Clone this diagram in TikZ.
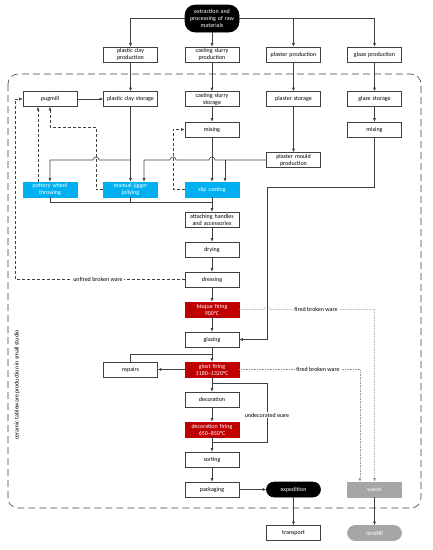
\documentclass[tikz,border=0pt]{standalone}
\usepackage{fontspec}
\setmainfont{Carlito}
\usepackage{tikz}
\usetikzlibrary{arrows.meta}
\definecolor{slipblue}  {RGB}{0,  176, 240}
\definecolor{firered}   {RGB}{192,  0,   0}
\definecolor{wastegray} {RGB}{166, 166, 166}
\definecolor{linegray}  {RGB}{64,  64,  64}
\definecolor{brokengray}{RGB}{150, 150, 150}

\begin{document}
\begin{tikzpicture}[x=1pt, y=-1pt, font=\fontsize{6}{7}\selectfont,
  box/.style={draw=linegray, line width=0.6pt, fill=white, text width=52pt,
    minimum height=15pt, inner sep=1pt, align=center},
  bluebox/.style={box, draw=slipblue, fill=slipblue, text=white},
  redbox/.style={box, draw=firered, fill=firered, text=white},
  graybox/.style={box, draw=wastegray, fill=wastegray, text=white},
  pill/.style={box, draw=black, fill=black, text=white, rounded corners=7.5pt},
  graypill/.style={box, draw=wastegray, fill=wastegray, text=white, rounded corners=7.5pt},
  ln/.style={draw=linegray, line width=0.6pt},
  arr/.style={ln, -{Latex[length=3.5pt, width=3pt]}},
  dsh/.style={arr, dash pattern=on 3pt off 2pt},
  fired/.style={draw=brokengray, line width=0.6pt, densely dotted,
    -{Latex[length=3.5pt, width=3pt]}},
  lbl/.style={fill=white, inner sep=1pt}]
  \useasboundingbox (0,0) rectangle (433,550);
  % columns
  \def\ca{50}  \def\cb{130.5}  \def\cc{212}  \def\cd{293.5}  \def\ce{374.5}
  % studio frame
  \draw[linegray, line width=0.6pt, dash pattern=on 7pt off 4pt, rounded corners=10pt]
    (8,74) rectangle (421,508);
  \node[rotate=90] (studio) at (17,385) {ceramic tableware production in small studio};
  % raw materials and production
  \node[pill, minimum height=27pt, rounded corners=10pt] (raw) at (\cc,18.5)
    {extraction and\\processing of raw\\materials};
  \node[box] (pcprod) at (\cb,54.5) {plastic clay\\production};
  \node[box] (csprod) at (\cc,54.5) {casting slurry\\production};
  \node[box] (ppprod) at (\cd,54.5) {plaster production};
  \node[box] (gzprod) at (\ce,54.5) {glaze production};
  % storage
  \node[box] (pugmill) at (\ca,99) {pugmill};
  \node[box] (pcsto) at (\cb,99) {plastic clay storage};
  \node[box] (cssto) at (\cc,99) {casting slurry\\storage};
  \node[box] (ppsto) at (\cd,99) {plaster storage};
  \node[box] (gzsto) at (\ce,99) {glaze storage};
  \node[box] (csmix) at (\cc,129.5) {mixing};
  \node[box] (gzmix) at (\ce,129.5) {mixing};
  \node[box] (mould) at (\cd,160) {plaster mould\\production};
  % forming
  \node[bluebox] (wheel) at (\ca,189.5) {pottery wheel\\throwing};
  \node[bluebox] (jigger) at (\cb,189.5) {manual jigger\\jollying};
  \node[bluebox] (slip) at (\cc,189.5) {slip casting};
  % main line
  \node[box] (attach) at (\cc,219.5) {attaching handles\\and accessories};
  \node[box] (drying) at (\cc,249.5) {drying};
  \node[box] (dressing) at (\cc,279.5) {dressing};
  \node[redbox] (bisque) at (\cc,309.5) {bisque firing\\900°C};
  \node[box] (glazing) at (\cc,339.5) {glazing};
  \node[redbox] (glost) at (\cc,369.5) {glost firing\\1180–1320°C};
  \node[box] (repairs) at (\cb,369.5) {repairs};
  \node[box] (decor) at (\cc,399.5) {decoration};
  \node[redbox] (decfire) at (\cc,429.5) {decoration firing\\650–850°C};
  \node[box] (sorting) at (\cc,459.5) {sorting};
  \node[box] (packing) at (\cc,489.5) {packaging};
  \node[pill] (expedition) at (\cd,489.5) {expedition};
  \node[graybox] (waste) at (\ce,489.5) {waste};
  \node[box] (transport) at (\cd,533) {transport};
  \node[graypill] (landfill) at (\ce,533) {landfill};

  % from raw materials
  \draw[arr] (raw.west) -| (pcprod);
  \draw[arr] (raw.east) -| (gzprod);
  \draw[arr] (raw.east -| ppprod.north) -- (ppprod);
  \draw[arr] (raw) -- (csprod);
  \foreach \a/\b in {pcprod/pcsto, csprod/cssto, ppprod/ppsto, gzprod/gzsto,
                     pugmill/pcsto, cssto/csmix, gzsto/gzmix, ppsto/mould, csmix/slip}
    \draw[arr] (\a) -- (\b);
  % clay and plaster to forming
  \draw[arr] (pcsto) -- (jigger);
  \draw[arr] (\cb,160) -- (99,160) arc (0:-180:3) -- (\ca,160) -- (wheel);
  \draw[arr] (mould.west) -- ({\cc+3},160) arc (0:-180:3) -- (176,160) arc (0:-180:3)
    -- (144,160) -- ([xshift=13.5pt]jigger.north);
  \draw[arr] (225,160) -- ([xshift=13pt]slip.north);
  % returns (dashed)
  \draw[dsh] ([xshift=-12pt]wheel.north) -- ([xshift=-12pt]pugmill.south);
  \draw[dsh] (jigger.west) -| (96,127) -| (pugmill.south);
  \draw[dsh] (slip.west) -| (173,129.5) -- (csmix.west);
  \draw[dsh] (dressing.west) -| (15,99) -- (pugmill.west);
  \node[lbl] (unfired) at (98,279.5) {unfired broken ware};
  % forming to finishing
  \draw[ln] (wheel) -- (\ca,202) -- (\cc,202);
  \draw[ln] (jigger) -- (\cb,202);
  \draw[arr] (slip) -- (attach);
  \foreach \a/\b in {attach/drying, drying/dressing, dressing/bisque, bisque/glazing,
                     glazing/glost, glost/decor, decor/decfire, decfire/sorting,
                     sorting/packing, packing/expedition, expedition/transport, waste/landfill}
    \draw[arr] (\a) -- (\b);
  % glaze to glazing
  \draw[arr] (gzmix) -- (\ce,187) -- (267,187) -- (267,339.5) -- (glazing.east);
  % broken ware to waste
  \draw[fired] (bisque.east) -- (264,309.5) arc (-180:0:3) -- (\ce,309.5) -- (waste.north);
  \draw[fired] (glost.east) -- (360,369.5) -- ([xshift=-14.5pt]waste.north);
  \node[lbl] (broken1) at (316,309.5) {fired broken ware};
  \node[lbl] (broken2) at (318,369.5) {fired broken ware};
  % repairs
  \draw[arr] (glost) -- (repairs);
  \draw[ln] (repairs) -- (\cb,354) -- (\cc,354);
  % undecorated ware
  \draw[ln] (\cc,383) -- (267,383) -- (267,442) -- (\cc,442);
  \node[lbl] (undecor) at (267,415) {undecorated ware};
\end{tikzpicture}
\end{document}
